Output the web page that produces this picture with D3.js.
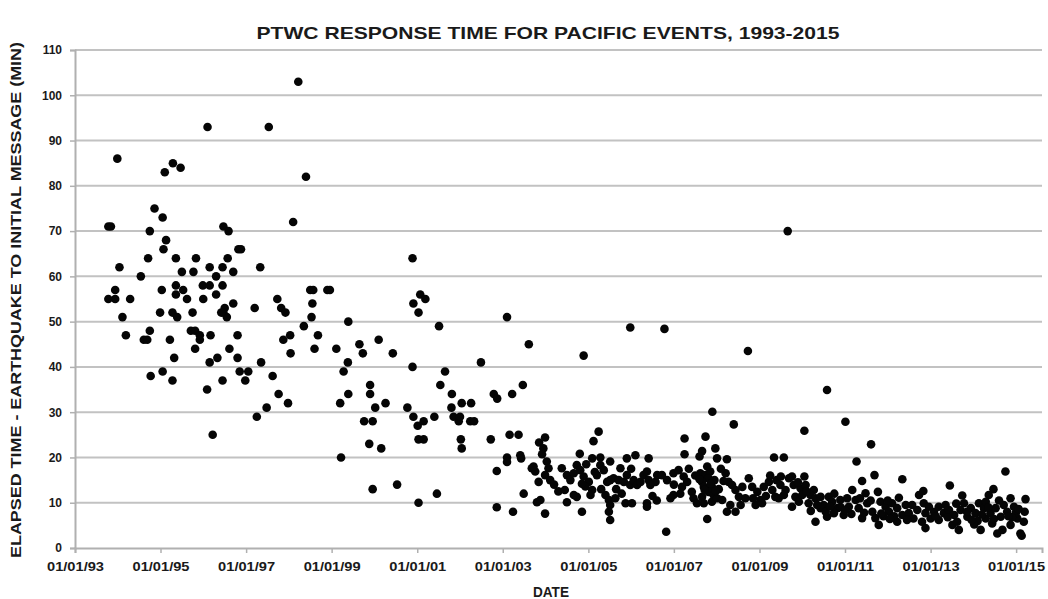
<!DOCTYPE html>
<html><head><meta charset="utf-8">
<script src="https://cdn.jsdelivr.net/npm/d3@7"></script>
<style>
html,body{margin:0;padding:0;background:#fff;}
svg{display:block;}
text{font-family:"Liberation Sans",Arial,sans-serif;font-weight:bold;fill:#1a1a1a;}
</style></head>
<body>
<svg id="chart" width="1048" height="599"></svg>
<script>
// ---- DATA (decimal year of event, minutes from earthquake to initial message) ----
const events1993to1998 = [
[1993.78,71],[1993.84,71],[1993.99,86],[1993.94,57],[1993.78,55],[1993.94,55],[1994.04,62],[1994.11,51],[1994.19,47],[1994.29,55],
[1994.54,60],[1994.61,46],[1994.69,46],[1994.71,64],[1994.75,70],[1994.75,48],[1994.77,38],[1994.86,75],[1994.99,52],[1995.03,57],
[1995.05,73],[1995.05,39],[1995.07,66],[1995.10,83],[1995.13,68],[1995.22,46],[1995.28,52],[1995.28,37],[1995.29,85],[1995.32,42],
[1995.36,64],[1995.36,58],[1995.36,56],[1995.39,51],[1995.47,84],[1995.50,61],[1995.53,57],[1995.62,55],[1995.71,48],[1995.81,48],
[1995.75,52],[1995.77,61],[1995.81,44],[1995.83,64],[1995.92,47],[1995.92,46],[1995.99,58],[1996.00,55],[1996.09,35],[1996.10,93],
[1996.15,62],[1996.15,58],[1996.15,41],[1996.17,47],[1996.22,25],[1996.30,60],[1996.30,56],[1996.33,42],[1996.45,62],[1996.45,58],
[1996.45,37],[1996.47,71],[1996.50,53],[1996.47,52],[1996.55,51],[1996.42,52],[1996.57,64],[1996.59,70],[1996.61,44],[1996.70,54],
[1996.70,61],[1996.80,47],[1996.80,42],[1996.82,66],[1996.88,66],[1996.85,39],[1996.98,37],[1997.05,39],[1997.20,53],[1997.25,29],
[1997.33,62],[1997.35,41],[1997.48,31],[1997.53,93],[1997.62,38],[1997.73,55],[1997.76,34],[1997.82,53],[1997.87,46],[1997.92,52],
[1997.98,32],[1998.03,47],[1998.04,43],[1998.10,72],[1998.22,103],[1998.35,49],[1998.40,82],[1998.50,57],[1998.53,51],[1998.55,54],
[1998.57,57],[1998.60,44],[1998.68,47],[1998.90,57],[1998.96,57]
];
const events1999to2003 = [
[1999.11,44],[1999.20,32],[1999.22,20],[1999.28,39],[1999.38,41],[1999.39,34],[1999.39,50],[1999.65,45],[1999.73,43],[1999.76,28],
[1999.88,23],[1999.90,36],[1999.90,34],[1999.96,28],[1999.96,13],[2000.02,31],[2000.10,46],[2000.16,22],[2000.26,32],[2000.43,43],
[2000.53,14],[2000.77,31],[2000.89,64],[2000.89,40],[2000.91,54],[2000.91,29],[2001.01,27],[2001.03,52],[2001.03,24],[2001.03,10],
[2001.07,56],[2001.15,28],[2001.15,24],[2001.19,55],[2001.40,29],[2001.46,12],[2001.51,49],[2001.54,36],[2001.65,39],[2001.80,31],
[2001.81,34],[2001.85,29],[2001.97,28],[2002.00,29],[2002.02,24],[2002.04,22],[2002.04,32],[2002.24,28],[2002.26,32],[2002.33,28],
[2002.49,41],[2002.72,24],[2002.79,34],[2002.86,17],[2002.86,9],[2002.87,33],[2003.10,51],[2003.10,20],[2003.10,19],[2003.16,25],
[2003.22,34],[2003.24,8],[2003.37,25],[2003.41,20.5],[2003.43,19.8],[2003.47,36],[2003.49,12],[2003.61,45]
];
const events2003to2006 = [
[2003.68,17.6],[2003.76,16.9],[2003.85,23.3],[2003.84,14.6],[2003.80,10.1],[2003.88,10.6],[2003.99,24.4],[2003.95,22],[2003.92,20.7],
[2003.72,18],[2004.03,19.1],[2004.07,17.6],[2003.99,16.1],[2004.11,15],[2003.99,7.6],[2004.38,17.6],[2004.50,16.1],[2004.58,15],
[2004.66,16.5],[2004.73,18.3],[2004.81,17.2],[2004.89,15.8],[2005.01,14.6],[2004.93,13.6],[2005.09,12.8],[2005.05,11.7],[2004.73,11.3],
[2004.66,11.7],[2004.50,10.1],[2004.85,8],[2004.80,20.8],[2004.89,42.5],[2005.24,25.7],[2005.12,23.6],[2005.09,19.8],[2005.28,20],
[2005.90,19.8],[2006.10,20.5],[2006.41,19.8],[2005.51,19.1],[2005.75,17.6],[2005.20,16.1],[2005.28,18.3],[2005.36,17.2],[2005.44,14.6],
[2005.51,15],[2005.40,11.7],[2005.48,10.6],[2005.51,9.5],[2005.48,8],[2005.51,6.2],[2005.63,11],[2005.59,15.4],[2005.71,15],
[2005.83,14.6],[2005.90,16.1],[2005.98,13.9],[2006.06,15],[2005.87,9.9],[2006.02,9.9],[2006.14,13.9],[2006.22,14.6],[2006.29,16.1],
[2006.37,16.9],[2006.41,15],[2006.37,9.9],[2006.37,9.1],[2006.57,14.6],[2006.61,16.1],[2006.45,13.9],[2005.98,48.7],[2006.78,48.4],
[2004.20,14],[2004.30,12.5],[2004.95,18.5],[2005.15,16.8],[2005.65,13],[2006.00,17.5],[2006.50,11.5],[2006.60,10.5],[2004.45,12.8],
[2004.85,14.2],[2005.30,13],[2005.78,12]
];
const events2006to2009 = [
[2008.40,27.3],[2007.25,24.2],[2007.74,24.6],[2007.25,20.7],[2007.66,21.4],[2007.60,20.2],[2007.97,22],[2008.01,19.8],[2008.24,19.6],
[2009.34,20],[2009.57,20],[2007.90,30.1],[2006.82,3.6],[2007.78,6.4],[2008.73,43.5],[2009.66,70],[2006.72,16.1],[2006.84,15],
[2006.99,16.5],[2007.11,17.2],[2007.23,15.8],[2007.31,14.6],[2007.19,13.5],[2006.99,11.7],[2006.92,11],[2007.42,12.4],[2007.46,11],
[2007.54,9.9],[2007.62,16.5],[2007.74,16.1],[2007.85,16.9],[2007.81,15.4],[2007.66,14.6],[2007.70,13.5],[2007.89,13.5],[2007.81,12.4],
[2007.66,11.3],[2007.93,11.7],[2007.70,9.9],[2007.89,10.2],[2008.01,11],[2008.13,10.6],[2008.21,16.5],[2008.28,14.6],[2008.36,13.9],
[2008.44,12.8],[2008.52,11.3],[2008.32,9.5],[2008.56,9.5],[2008.67,11],[2008.75,15.4],[2008.83,13.5],[2008.95,12.4],[2009.02,10.6],
[2008.91,9.5],[2009.10,13.5],[2009.22,14.6],[2009.30,12.8],[2009.37,11.3],[2009.45,11],[2009.49,13.9],[2009.61,12.8],[2009.69,15.4],
[2009.57,11.7],[2008.24,8],[2008.44,8],[2009.06,9.9],[2007.00,14],[2007.15,12],[2007.78,18],[2007.95,15],[2008.05,13],[2008.60,13.5],
[2009.15,11.5],[2009.40,15],[2007.50,16],[2007.35,17.5],[2008.10,17.5],[2008.85,11],
[2007.72,12.8],[2007.86,14.2],[2007.60,15.2],[2007.98,12.6],[2008.16,14.8],[2009.25,16],[2009.50,15.8]
];
const events2009to2012 = [
[2010.05,25.9],[2011.01,27.9],[2011.61,22.9],[2011.27,19.1],[2011.69,16.1],[2011.40,14.8],[2012.34,15.2],[2011.77,12.4],[2012.26,11.1],
[2010.05,15.8],[2009.76,15.8],[2010.27,12.8],[2010.58,34.9],[2009.80,13.9],[2009.96,13.2],[2010.08,13.9],[2009.84,11.3],[2009.76,9.1],
[2010.19,11.7],[2010.15,9.9],[2010.31,11],[2010.43,11.3],[2010.50,9.5],[2010.62,11.3],[2010.70,10.2],[2010.31,5.8],[2010.58,6.9],
[2010.82,8.8],[2010.89,10.6],[2010.97,7.3],[2011.09,9.1],[2011.17,12.8],[2011.25,10.6],[2011.32,8.8],[2011.48,12.1],[2011.52,9.9],
[2011.64,8],[2011.71,6.6],[2011.79,5.1],[2011.83,10.2],[2011.95,9.1],[2012.03,8],[2012.10,9.9],[2012.22,8.8],[2012.34,7.3],
[2012.42,9.5],[2012.49,7.7],[2012.57,9.5],[2012.69,8.4],[2012.73,11.7],[2012.22,5.8],[2011.40,6.6],[2010.74,7.7],[2010.43,8.8],
[2009.92,10.2],[2010.00,11.7],[2009.90,14.5],[2010.10,12.5],[2010.55,8],[2010.90,9],[2011.05,11],[2011.15,7.5],[2011.35,11],
[2011.60,10.5],[2011.90,7],[2012.00,10.5],[2012.15,7],[2012.60,6.5],[2010.35,9.5],[2010.75,12],
[2010.20,8.2],[2011.00,8.4],[2011.45,7.8],[2011.85,7.6],[2012.45,6.2],[2012.05,6.4],[2010.65,9.2]
];
const events2012to2015 = [
[2014.75,16.9],[2013.45,13.8],[2012.83,12.6],[2014.47,13],[2014.36,11.7],[2013.74,11.6],[2015.22,10.8],[2014.87,11],[2012.84,9.9],
[2012.96,9.1],[2012.88,7.7],[2012.80,5.8],[2012.88,4.4],[2013.08,8],[2013.19,9.1],[2013.31,7.7],[2013.19,6.2],[2013.43,8.4],
[2013.55,7.3],[2013.51,5.1],[2013.66,4],[2013.70,8.4],[2013.78,9.9],[2013.86,6.9],[2013.62,5.8],[2013.94,8.8],[2014.05,7.7],
[2014.13,9.9],[2014.17,4],[2014.25,8.8],[2014.29,6.5],[2014.40,7.7],[2014.44,5.4],[2014.52,8.8],[2014.56,3.2],[2014.64,6.9],
[2014.71,9.5],[2014.79,8],[2014.87,5.1],[2014.95,9.1],[2015.03,6.5],[2015.10,3.2],[2015.18,5.8],[2014.99,7.7],[2014.68,4],
[2014.29,10.2],[2015.13,2.7],[2013.00,6.5],[2013.35,9.5],[2013.85,8],[2014.10,6],[2014.35,9],[2014.60,10.5],[2014.90,6.8],
[2015.20,8],[2013.60,9.8],[2014.02,5.2],
[2013.12,7],[2013.40,6.8],[2013.96,6.2],[2014.20,7.4],[2014.48,6.4],[2014.82,7],[2015.06,8.6]
];
const xTickYears = [1993,1995,1997,1999,2001,2003,2005,2007,2009,2011,2013,2015];
const xTickLabels = ["01/01/93","01/01/95","01/01/97","01/01/99","01/01/01","01/01/03","01/01/05","01/01/07","01/01/09","01/01/11","01/01/13","01/01/15"];
const yTicks = [0,10,20,30,40,50,60,70,80,90,100,110];
const titleText = "PTWC RESPONSE TIME FOR PACIFIC EVENTS, 1993-2015";
const xTitle = "DATE";
const yTitle = "ELAPSED TIME - EARTHQUAKE TO INITIAL MESSAGE (MIN)";

// ---- CHART ----
const allEvents = [].concat(events1993to1998, events1999to2003, events2003to2006, events2006to2009, events2009to2012, events2012to2015);
function fromDecimal(y){
  const yr = Math.floor(y);
  const s = new Date(yr,0,1), e = new Date(yr+1,0,1);
  return new Date(+s + (y-yr)*(e-s));
}
const svg = d3.select("#chart");
const L = 75, R = 1042, T = 50, B = 548;
const x = d3.scaleTime().domain([new Date(1993,0,1), new Date(2015,7,10)]).range([L,R]);
const y = d3.scaleLinear().domain([0,110]).range([B,T]);

svg.append("rect").attr("width",1048).attr("height",599).attr("fill","#fff");

// gridlines
svg.append("g").selectAll("line").data(yTicks.filter(d=>d>0)).join("line")
  .attr("x1",L).attr("x2",R).attr("y1",d=>y(d)).attr("y2",d=>y(d))
  .attr("stroke","#c2c2c2").attr("stroke-width",2);

// y axis
const yAxis = svg.append("g").attr("transform",`translate(${L},0)`)
  .call(d3.axisLeft(y).tickValues(yTicks).tickSize(5).tickPadding(8));
yAxis.select(".domain").attr("stroke","#b0b0b0").attr("stroke-width",2);
yAxis.selectAll(".tick line").attr("stroke","#b0b0b0").attr("stroke-width",1.5);
yAxis.selectAll("text").style("font-size","12px").style("font-family",'"Liberation Sans",Arial,sans-serif')
  .style("font-weight","bold").attr("fill","#1a1a1a");

// x axis
const xAxis = svg.append("g").attr("transform",`translate(0,${B})`)
  .call(d3.axisBottom(x).tickValues(xTickYears.map(v=>new Date(v,0,1))).tickSize(5).tickPadding(9)
    .tickFormat((d,i)=>xTickLabels[i]));
xAxis.select(".domain").attr("stroke","#b0b0b0").attr("stroke-width",2);
xAxis.selectAll(".tick line").attr("stroke","#b0b0b0").attr("stroke-width",1.5);
xAxis.selectAll("text").style("font-size","13px").style("font-family",'"Liberation Sans",Arial,sans-serif')
  .style("font-weight","bold").attr("fill","#1a1a1a")
  .attr("textLength",57).attr("lengthAdjust","spacingAndGlyphs");

// points
svg.append("g").selectAll("circle").data(allEvents).join("circle")
  .attr("cx",d=>x(fromDecimal(d[0]))).attr("cy",d=>y(d[1])).attr("r",4.3)
  .attr("fill","#050505");

// titles
svg.append("text").attr("x",548).attr("y",39).attr("text-anchor","middle")
  .style("font-size","17px").attr("textLength",583).attr("lengthAdjust","spacingAndGlyphs").text(titleText);
svg.append("text").attr("x",551).attr("y",597).attr("text-anchor","middle")
  .style("font-size","14px").attr("textLength",36).attr("lengthAdjust","spacingAndGlyphs").text(xTitle);
svg.append("text").attr("transform","translate(21,300) rotate(-90)").attr("text-anchor","middle")
  .style("font-size","14px").attr("textLength",516).attr("lengthAdjust","spacingAndGlyphs").text(yTitle);
</script>
</body></html>
